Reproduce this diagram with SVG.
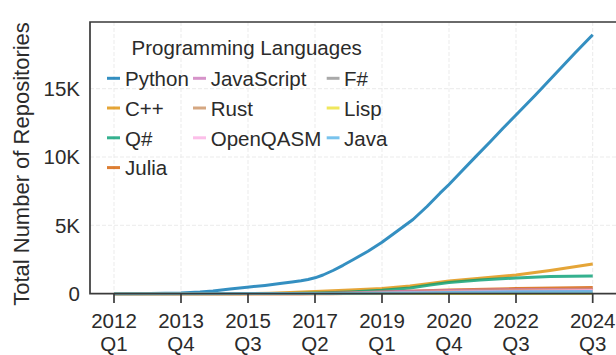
<svg xmlns="http://www.w3.org/2000/svg" width="616" height="355" viewBox="0 0 616 355">
<style>
text{font-family:"Liberation Sans",Arial,sans-serif;font-size:20.5px;fill:#2b2b2b}
.grid{stroke:#ebebeb;stroke-width:1;stroke-dasharray:4 2;fill:none}
.spine{stroke:#3a3a3a;stroke-width:1.7;fill:none}
.tick{stroke:#3a3a3a;stroke-width:1.7}
.ln{fill:none;stroke-width:3;stroke-linejoin:round;stroke-linecap:butt;stroke-opacity:0.8}
.lg{stroke-width:3;stroke-opacity:0.8}
.xl{text-anchor:middle}
.yl{text-anchor:end}
</style>
<rect width="616" height="355" fill="#ffffff"/>
<g id="grid">
<line class="grid" x1="114" y1="22" x2="114" y2="294"/>
<line class="grid" x1="181" y1="22" x2="181" y2="294"/>
<line class="grid" x1="248" y1="22" x2="248" y2="294"/>
<line class="grid" x1="315" y1="22" x2="315" y2="294"/>
<line class="grid" x1="382" y1="22" x2="382" y2="294"/>
<line class="grid" x1="449" y1="22" x2="449" y2="294"/>
<line class="grid" x1="516" y1="22" x2="516" y2="294"/>
<line class="grid" x1="592.7" y1="22" x2="592.7" y2="294"/>
<line class="grid" x1="90" y1="225.3" x2="616" y2="225.3"/>
<line class="grid" x1="90" y1="157" x2="616" y2="157"/>
<line class="grid" x1="90" y1="88.7" x2="616" y2="88.7"/>
</g>
<g id="connectors">
<polyline id="python" class="ln" stroke="#0173B2" points="114,293.6 150,293.4 181,293 200,292 213,291 230,289.1 247,287.3 265,285.4 280,283.5 292,282 301,280.8 308,279.5 315,277.8 323,275 333,270.5 343,265.3 353,259.8 368,251.2 382,242.3 396,232 413,219.5 427,206.5 440,193.2 449,184.5 460,173 475,157.4 490,142 503,128.2 516,115 535,95.5 555,74.2 575,53 592.7,34.7"/>
<polyline id="cpp" class="ln" stroke="#DE8F05" points="114,293.7 240,293.7 270,293.2 290,292.5 315,291.5 350,290 382,288.4 410,286 430,283.5 449,281 480,278.3 516,275 550,270.5 592.7,264"/>
<polyline id="qsharp" class="ln" stroke="#029E73" points="114,293.7 290,293.5 320,293 350,292 382,290.3 410,288 430,285 449,282.5 480,280 516,278 550,276.6 592.7,276"/>
<polyline id="julia" class="ln" stroke="#D55E00" points="114,293.7 300,293.7 350,293 400,291.6 449,290 516,288.6 592.7,287.4"/>
<polyline id="javascript" class="ln" stroke="#CC78BC" points="114,293.7 300,293.7 350,293 400,291.5 449,290.6 516,289.8 592.7,289.2"/>
<polyline id="rust" class="ln" stroke="#CA9161" points="114,293.7 330,293.7 400,292.5 449,291.5 516,290.5 592.7,289.8"/>
<polyline id="openqasm" class="ln" stroke="#FBAFE4" points="114,293.7 330,293.7 400,292.8 449,292 516,291.2 592.7,290.6"/>
<polyline id="fsharp" class="ln" stroke="#949494" points="114,293.7 400,293.5 592.7,293"/>
<polyline id="lisp" class="ln" stroke="#ECE133" points="114,293.7 400,293.6 592.7,293.3"/>
<polyline id="java" class="ln" stroke="#56B4E9" points="114,293.7 330,293.5 400,292.9 449,292.4 516,291.8 592.7,291.4"/>
</g>
<g id="axes">
<polyline class="spine" points="616,22 90,22 90,293.7 616,293.7"/>
<line class="tick" x1="114" y1="293.7" x2="114" y2="303"/>
<line class="tick" x1="181" y1="293.7" x2="181" y2="303"/>
<line class="tick" x1="248" y1="293.7" x2="248" y2="303"/>
<line class="tick" x1="315" y1="293.7" x2="315" y2="303"/>
<line class="tick" x1="382" y1="293.7" x2="382" y2="303"/>
<line class="tick" x1="449" y1="293.7" x2="449" y2="303"/>
<line class="tick" x1="516" y1="293.7" x2="516" y2="303"/>
<line class="tick" x1="592.7" y1="293.7" x2="592.7" y2="303"/>
</g>
<g id="x-labels">
<text class="xl" x="114" y="328.3">2012</text><text class="xl" x="114" y="350.8">Q1</text>
<text class="xl" x="181" y="328.3">2013</text><text class="xl" x="181" y="350.8">Q4</text>
<text class="xl" x="248" y="328.3">2015</text><text class="xl" x="248" y="350.8">Q3</text>
<text class="xl" x="315" y="328.3">2017</text><text class="xl" x="315" y="350.8">Q2</text>
<text class="xl" x="382" y="328.3">2019</text><text class="xl" x="382" y="350.8">Q1</text>
<text class="xl" x="449" y="328.3">2020</text><text class="xl" x="449" y="350.8">Q4</text>
<text class="xl" x="516" y="328.3">2022</text><text class="xl" x="516" y="350.8">Q3</text>
<text class="xl" x="592.7" y="328.3">2024</text><text class="xl" x="592.7" y="350.8">Q3</text>
</g>
<g id="y-labels">
<text class="yl" x="80" y="300.8">0</text>
<text class="yl" x="80" y="232.6">5K</text>
<text class="yl" x="80" y="164.3">10K</text>
<text class="yl" x="80" y="96.2">15K</text>
<text text-anchor="middle" style="font-size:22px" transform="translate(28.8,164) rotate(-90)" x="0" y="0">Total Number of Repositories</text>
</g>
<g id="legend">
<text x="131.6" y="55">Programming Languages</text>
<g id="lg-python"><line class="lg" stroke="#0173B2" x1="107" y1="78.3" x2="120" y2="78.3"/><text x="125" y="86">Python</text></g>
<g id="lg-cpp"><line class="lg" stroke="#DE8F05" x1="107" y1="108" x2="120" y2="108"/><text x="125" y="115.7">C++</text></g>
<g id="lg-qsharp"><line class="lg" stroke="#029E73" x1="107" y1="137.8" x2="120" y2="137.8"/><text x="125" y="145.5">Q#</text></g>
<g id="lg-julia"><line class="lg" stroke="#D55E00" x1="107" y1="167.6" x2="120" y2="167.6"/><text x="125" y="175.3">Julia</text></g>
<g id="lg-javascript"><line class="lg" stroke="#CC78BC" x1="193" y1="78.3" x2="206" y2="78.3"/><text x="210.7" y="86">JavaScript</text></g>
<g id="lg-rust"><line class="lg" stroke="#CA9161" x1="193" y1="108" x2="206" y2="108"/><text x="210.7" y="115.7">Rust</text></g>
<g id="lg-openqasm"><line class="lg" stroke="#FBAFE4" x1="193" y1="137.8" x2="206" y2="137.8"/><text x="210.7" y="145.5">OpenQASM</text></g>
<g id="lg-fsharp"><line class="lg" stroke="#949494" x1="326.7" y1="78.3" x2="339.5" y2="78.3"/><text x="344" y="86">F#</text></g>
<g id="lg-lisp"><line class="lg" stroke="#ECE133" x1="326.7" y1="108" x2="339.5" y2="108"/><text x="344" y="115.7">Lisp</text></g>
<g id="lg-java"><line class="lg" stroke="#56B4E9" x1="326.7" y1="137.8" x2="339.5" y2="137.8"/><text x="344" y="145.5">Java</text></g>
</g>
</svg>
